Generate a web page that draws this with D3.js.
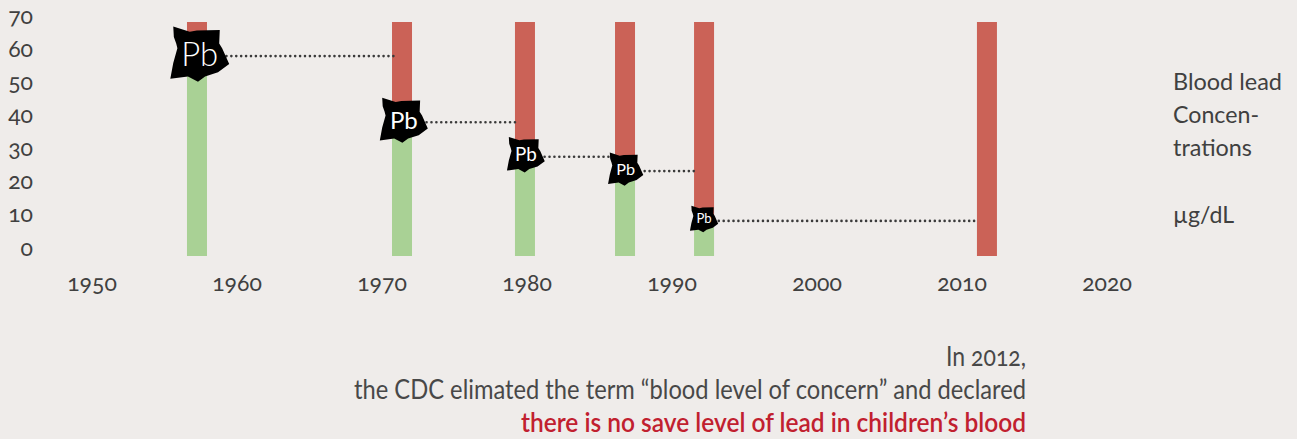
<!DOCTYPE html>
<html><head><meta charset="utf-8">
<script src="https://cdn.jsdelivr.net/npm/d3@7/dist/d3.min.js"></script>
<style>
html,body{margin:0;padding:0;background:#efecea;overflow:hidden}
text{font-family:Lato,"Open Sans",sans-serif;fill:#404040;font-feature-settings:"onum" 1;font-variant-numeric:oldstyle-nums}
</style></head><body><svg id="c" width="1297" height="439"></svg>
<script>
const barYears=[1957.24,1971.38,1979.86,1986.76,1992.21,2011.72];
const safeLevels=[59.8,40,29.7,25.4,10.5,0];
const yearTicks=[1950,1960,1970,1980,1990,2000,2010,2020];
const valueTicks=[0,10,20,30,40,50,60,70];
const unitLines=[["Blood lead",90],["Concen-",123],["trations",156],["µg/dL",223]];
const noteLines=[["In 2012,",80,false],["the CDC elimated the term “blood level of concern” and declared",672,false],["there is no save level of lead in children’s blood",505,true]];

const svg=d3.select("#c");
const x=d3.scaleLinear().domain([1950,2020]).range([92,1107]);
const y=d3.scaleLinear().domain([0,70]).range([256,22]);
const yLabel=d3.scaleLinear().domain([0,70]).range([248.6,16.6]);
const blobW=d3.scaleLinear().domain([10,25,30,40,60]).range([28,35,38,48,59]);
const pbSize=d3.scaleLinear().domain([10,25,30,40,60]).range([13,16,19,24,33]);
const barW=20;
const rows=barYears.map((year,i)=>({year,level:safeLevels[i],next:barYears[i+1]}));

svg.selectAll("rect.red").data(rows).join("rect").attr("class","red")
 .attr("x",d=>x(d.year)-barW/2).attr("width",barW)
 .attr("y",y(70)).attr("height",d=>y(d.level)-y(70)).attr("fill","#cb6257");
svg.selectAll("rect.green").data(rows.filter(d=>d.level>0)).join("rect").attr("class","green")
 .attr("x",d=>x(d.year)-barW/2).attr("width",barW)
 .attr("y",d=>y(d.level)).attr("height",d=>y(0)-y(d.level)).attr("fill","#a9d195");

const held=rows.filter(d=>d.level>0);
svg.selectAll("line.dot").data(held).join("line").attr("class","dot")
 .attr("x1",d=>x(d.year)).attr("x2",d=>x(d.next)-8)
 .attr("y1",d=>y(d.level)).attr("y2",d=>y(d.level))
 .attr("stroke","#3a3a3a").attr("stroke-width",2.6).attr("stroke-linecap","round").attr("stroke-dasharray","0.01 4.9");

const outline=[[-.45,-.47],[-.17,-.38],[-.05,-.4],[.34,-.41],[.33,-.18],[.38,-.1],[.5,.17],[.31,.31],[.09,.38],[-.03,.47],[-.2,.38],[-.5,.42],[-.45,.15],[-.38,-.1],[-.4,-.18],[-.44,-.29]];
const blobLine=d3.line().curve(d3.curveLinearClosed);
const blobs=svg.selectAll("g.blob").data(held).join("g").attr("class","blob")
 .attr("transform",d=>`translate(${x(d.year)+(blobW(d.level)-28)*0.09},${y(d.level)-2})`);
blobs.append("path").attr("d",d=>blobLine(outline.map(p=>[p[0]*blobW(d.level),p[1]*blobW(d.level)]))).attr("fill","#000");
blobs.append("text").text("Pb").attr("text-anchor","middle").attr("dy","0.35em").attr("font-weight",d=>d.level>50?300:400).attr("font-size",d=>pbSize(d.level)).style("fill","#fff");

svg.selectAll("text.xt").data(yearTicks).join("text").attr("class","xt").text(d=>d)
 .attr("x",d=>x(d)).attr("y",291).attr("text-anchor","middle").attr("font-size",23);
svg.selectAll("text.yt").data(valueTicks).join("text").attr("class","yt").text(d=>d)
 .attr("x",33).attr("y",d=>yLabel(d)+7).attr("text-anchor","end").attr("font-size",23);
svg.selectAll("text.unit").data(unitLines).join("text").attr("class","unit").text(d=>d[0])
 .attr("x",1173).attr("y",d=>d[1]).attr("font-size",23)
 .attr("textLength",d=>({"Blood lead":109,"Concen-":86,"trations":79,"µg/dL":61})[d[0]]).attr("lengthAdjust","spacingAndGlyphs");
const noteY=d3.scalePoint().domain(noteLines.map(d=>d[0])).range([366,432]);
svg.selectAll("text.note").data(noteLines).join("text").attr("class","note").text(d=>d[0])
 .attr("x",1026).attr("y",d=>noteY(d[0])).attr("text-anchor","end").attr("font-size",27)
 .attr("textLength",d=>d[1]).attr("lengthAdjust","spacingAndGlyphs")
 .attr("font-weight",d=>d[2]?600:400).style("fill",d=>d[2]?"#c1202f":"#484848");
</script></body></html>
